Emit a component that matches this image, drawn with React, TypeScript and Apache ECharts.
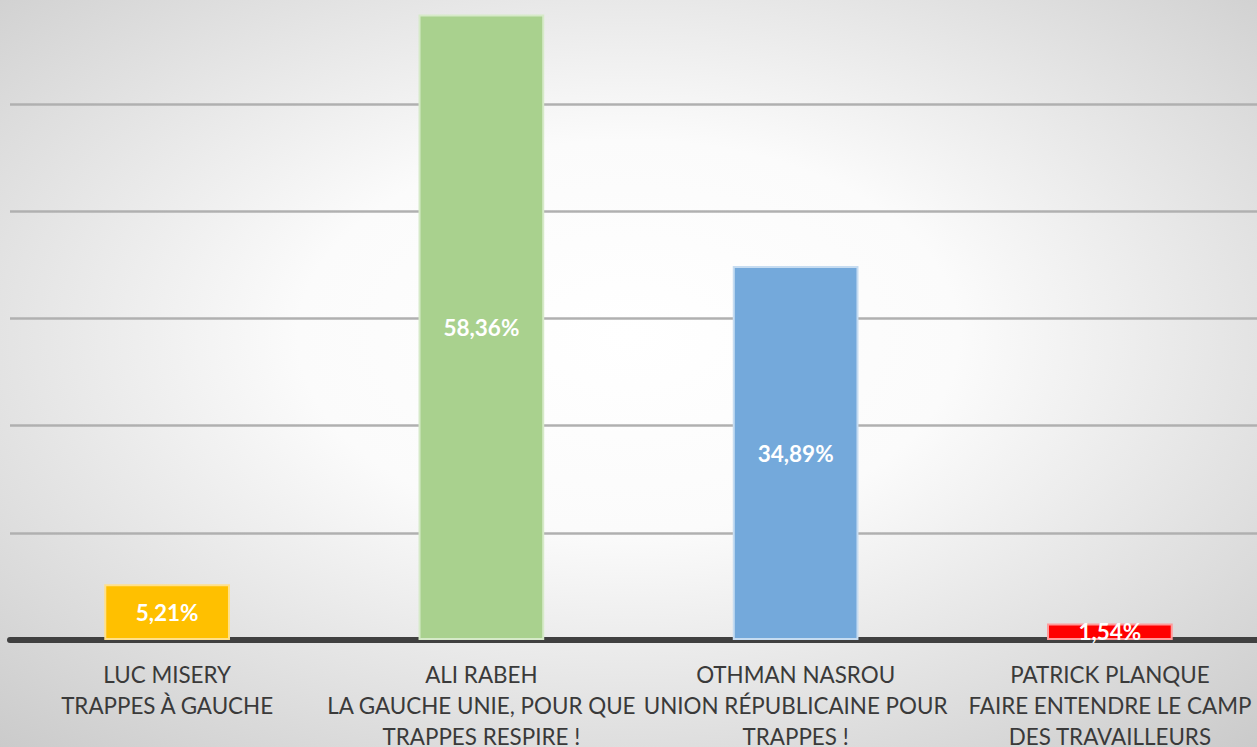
import React, { useEffect, useRef } from "react";
import * as echarts from "echarts";

const categories = [
  "LUC MISERY\nTRAPPES À GAUCHE",
  "ALI RABEH\nLA GAUCHE UNIE, POUR QUE\nTRAPPES RESPIRE !",
  "OTHMAN NASROU\nUNION RÉPUBLICAINE POUR\nTRAPPES !",
  "PATRICK PLANQUE\nFAIRE ENTENDRE LE CAMP\nDES TRAVAILLEURS",
];
const values = [5.21, 58.36, 34.89, 1.54];
const barColors = ["#FFC000", "#A9D18E", "#74A9DB", "#FF0000"];
const borderColors = ["#FFE08A", "#D6EAC8", "#C6DCF1", "#FF9A9A"];

export default function App() {
  const ref = useRef<HTMLDivElement>(null);
  useEffect(() => {
    document.body.style.margin = "0";
    const chart = echarts.init(ref.current!, null, { renderer: "svg" });
    chart.setOption({
      animation: false,
      backgroundColor: {
        type: "radial",
        x: 0.5,
        y: 0.45,
        r: 0.75,
        colorStops: [
          { offset: 0, color: "#ffffff" },
          { offset: 0.35, color: "#fbfbfb" },
          { offset: 1, color: "#cacaca" },
        ],
      },
      grid: {
        left: 10,
        right: -10,
        top: -3,
        bottom: 107,
        containLabel: false,
        outerBoundsMode: "none",
      },
      xAxis: {
        type: "category",
        data: categories,
        axisLine: { show: true, lineStyle: { color: "#404040", width: 6 } },
        axisTick: { show: false },
        axisLabel: {
          interval: 0,
          margin: 19,
          color: "#3a3a3a",
          fontFamily: "Lato",
          fontSize: 22.4,
          lineHeight: 31,
          verticalAlign: "top",
          hideOverlap: false,
        },
      },
      yAxis: {
        type: "value",
        min: 0,
        max: 60,
        interval: 10,
        axisLabel: { show: false },
        axisLine: { show: false },
        axisTick: { show: false },
        splitLine: { lineStyle: { color: "#b0b0b0", width: 2.5 } },
      },
      series: [
        {
          type: "bar",
          barCategoryGap: "60%",
          z: 1,
          data: values.map((v, i) => ({
            value: v,
            itemStyle: { color: barColors[i], borderColor: borderColors[i], borderWidth: 2 },
          })),
          label: {
            show: true,
            position: "inside",
            color: "#ffffff",
            fontFamily: "Lato",
            fontWeight: "bold",
            fontSize: 22.5,
            formatter: (p: any) => p.value.toFixed(2).replace(".", ",") + "%",
          },
        },
      ],
    });
    return () => chart.dispose();
  }, []);
  return <div ref={ref} style={{ width: 1257, height: 747 }} />;
}
